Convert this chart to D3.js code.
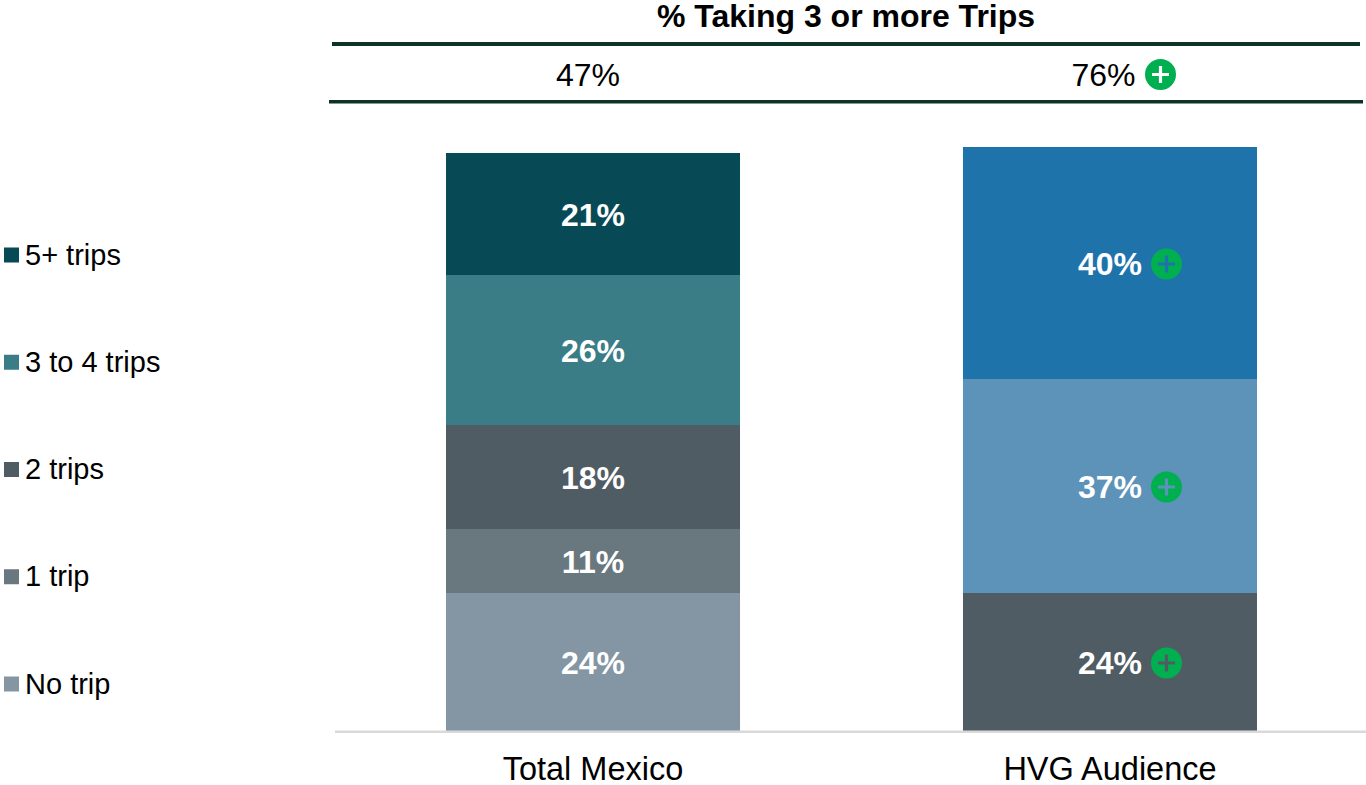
<!DOCTYPE html>
<html>
<head>
<meta charset="utf-8">
<script src="https://cdn.jsdelivr.net/npm/d3@7/dist/d3.min.js"></script>
<style>
html,body{margin:0;padding:0;background:#fff;overflow:hidden}
text{font-family:"Liberation Sans",Arial,sans-serif;fill:#000}
</style>
</head>
<body>
<svg id="c" width="1366" height="785"></svg>
<script>
const categories = ["Total Mexico", "HVG Audience"];
const summaryTitle = "% Taking 3 or more Trips";
const summaryValues = [47, 76];
const summarySig = [false, true];
const legendLabels = ["5+ trips", "3 to 4 trips", "2 trips", "1 trip", "No trip"];
const legendColors = ["#074a55", "#3a7d87", "#505c63", "#69787f", "#8496a3"];
const totalMexicoValues = [23.9, 11.1, 18, 25.9, 21.1];
const totalMexicoColors = ["#8496a3", "#69787f", "#505c63", "#3a7d87", "#074a55"];
const hvgValues = [23.9, 37, 40.2];
const hvgColors = ["#505c63", "#5d93b9", "#1f73ab"];
const hvgSig = [true, true, true];

const svg = d3.select("#c");
const x = d3.scaleBand().domain(categories).range([334.5, 1368.5]).paddingInner(0.4313).paddingOuter(0.2157);
const y = d3.scaleLinear().domain([0, 100]).rangeRound([731, 153]);
const pct = d3.format(".0f");

const badge = (g, cx, cy) => {
  const r = 15.5, a = 8.5, t = 1.6;
  const p = d3.path();
  p.arc(cx, cy, r, 0, Math.PI * 2); p.closePath();
  p.moveTo(cx - t, cy - a); p.lineTo(cx + t, cy - a); p.lineTo(cx + t, cy - t); p.lineTo(cx + a, cy - t);
  p.lineTo(cx + a, cy + t); p.lineTo(cx + t, cy + t); p.lineTo(cx + t, cy + a); p.lineTo(cx - t, cy + a);
  p.lineTo(cx - t, cy + t); p.lineTo(cx - a, cy + t); p.lineTo(cx - a, cy - t); p.lineTo(cx - t, cy - t); p.closePath();
  g.append("path").attr("d", p.toString()).attr("fill", "#00b050").attr("fill-rule", "evenodd");
};

// header
svg.append("text").attr("x", 846).attr("y", 27).attr("text-anchor", "middle")
  .attr("font-size", 32).attr("font-weight", 700).text(summaryTitle);
svg.append("rect").attr("x", 332).attr("y", 42).attr("width", 1028).attr("height", 4).attr("fill", "#0b3327");
svg.append("rect").attr("x", 329).attr("y", 100).attr("width", 1034).attr("height", 3.5).attr("fill", "#0b3327");
categories.forEach((c, i) => {
  const cx = x(c) + x.bandwidth() / 2 - (i === 0 ? 5 : 6.5);
  svg.append("text").attr("x", cx).attr("y", 86).attr("text-anchor", "middle")
    .attr("font-size", 32).text(summaryValues[i] + "%");
  if (summarySig[i]) badge(svg, 1160.5, 74.5);
});

// stacks
const drawStack = (cat, vals, cols, sig) => {
  let acc = 0;
  vals.forEach((v, i) => {
    const y0 = y(acc), y1 = y(acc + v);
    acc += v;
    svg.append("rect").attr("x", x(cat)).attr("y", y1).attr("width", x.bandwidth())
      .attr("height", y0 - y1).attr("fill", cols[i]);
    const cx = x(cat) + x.bandwidth() / 2, cy = (y0 + y1) / 2;
    svg.append("text").attr("x", cx).attr("y", cy + 12).attr("text-anchor", "middle")
      .attr("font-size", 32).attr("font-weight", 700).style("fill", "#fff").text(pct(v) + "%");
    if (sig && sig[i]) badge(svg, cx + 56.5, cy + 1);
  });
};
drawStack(categories[0], totalMexicoValues, totalMexicoColors, null);
drawStack(categories[1], hvgValues, hvgColors, hvgSig);

// axis
svg.append("rect").attr("x", 335).attr("y", 730.5).attr("width", 1031).attr("height", 2.5).attr("fill", "#d9d9d9");
categories.forEach(c => {
  svg.append("text").attr("x", x(c) + x.bandwidth() / 2).attr("y", 780).attr("text-anchor", "middle")
    .attr("font-size", 32.5).text(c);
});

// legend
const legendY = d3.scalePoint().domain(legendLabels).range([255, 684]);
legendLabels.forEach((l, i) => {
  svg.append("rect").attr("x", 4).attr("y", legendY(l) - 7.5).attr("width", 15).attr("height", 15).attr("fill", legendColors[i]);
  svg.append("text").attr("x", 25).attr("y", legendY(l) + 9.7).attr("font-size", 29).text(l);
});
</script>
</body>
</html>
